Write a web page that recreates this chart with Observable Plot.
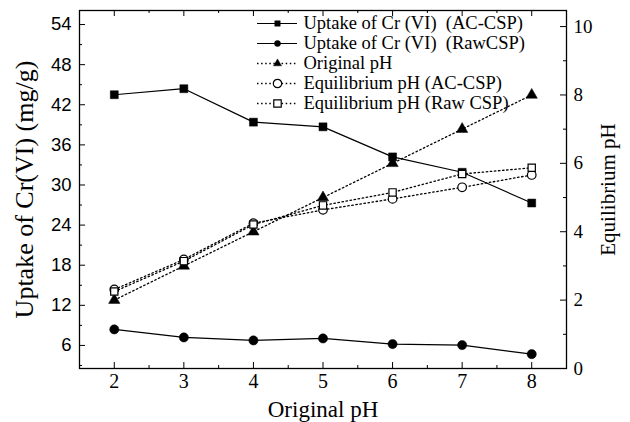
<!DOCTYPE html>
<html><head><meta charset="utf-8">
<script src="https://cdn.jsdelivr.net/npm/d3@7"></script>
<script src="https://cdn.jsdelivr.net/npm/@observablehq/plot@0.6"></script>
<style>
body{margin:0;background:#fff}
#wrap{position:relative;width:630px;height:422px}
#wrap svg{position:absolute;left:0;top:0;overflow:visible}
#wrap svg text{white-space:pre;font-family:"Liberation Serif","Times New Roman",serif !important}
#wrap svg#mainPlot g[aria-label="y-axis tick label"] text{font-family:"Liberation Sans",Arial,sans-serif !important}
</style>
</head><body><div id="wrap"></div>
<script>
// ---- data ----
const originalPH = [2, 3, 4, 5, 6, 7, 8];
const uptakeAC  = [43.5, 44.4, 39.4, 38.7, 34.2, 31.9, 27.3];
const uptakeRaw = [8.4, 7.2, 6.75, 7.05, 6.2, 6.05, 4.7];
const origPHValues = [2, 3, 4, 5, 6, 7, 8];
const eqPH_AC  = [2.31, 3.19, 4.25, 4.64, 4.96, 5.30, 5.66];
const eqPH_Raw = [2.25, 3.14, 4.21, 4.77, 5.15, 5.69, 5.87];

const xTicks = [2, 3, 4, 5, 6, 7, 8];
const xMinor = [1.5, 2.5, 3.5, 4.5, 5.5, 6.5, 7.5, 8.5];
const yLeftTicks = [6, 12, 18, 24, 30, 36, 42, 48, 54];
const yLeftMinor = [3, 9, 15, 21, 27, 33, 39, 45, 51];
const yRightTicks = [0, 2, 4, 6, 8, 10];
const yRightMinor = [1, 3, 5, 7, 9];

const legendLabels = [
  "Uptake of Cr (VI)  (AC-CSP)",
  "Uptake of Cr (VI)  (RawCSP)",
  "Original pH",
  "Equilibrium pH (AC-CSP)",
  "Equilibrium pH (Raw CSP)"
];
const legendSymbols = ["square", "circle", "triangle", "circle", "square"];
const legendFilled = [true, true, true, false, false];
const legendDotted = [false, false, true, true, true];

const xTitle = "Original pH";
const yLeftTitle = "Uptake of Cr(VI) (mg/g)";
const yRightTitle = "Equilibrium pH";

// ---- tables ----
const rows = (ys) => originalPH.map((x, i) => ({x, y: ys[i]}));
const legendRows = legendLabels.map((label, i) => ({
  label, symbol: legendSymbols[i], filled: legendFilled[i], dotted: legendDotted[i]
}));

// ---- layout ----
const W = 630, H = 422;
const mT = 10, mR = 64, mB = 54, mL = 79;
const fw = W - mL - mR, fh = H - mT - mB;
const serif = "Liberation Serif";
const sans = "Liberation Sans";
const dotted = "1.5 2.6";

const common = {
  width: W, height: H,
  marginTop: mT, marginRight: mR, marginBottom: mB, marginLeft: mL,
  style: {background: "transparent", fontFamily: serif, color: "black"}
};

const filledDot = (data, symbol, r) =>
  Plot.dot(data, {x: "x", y: "y", symbol, r, fill: "black", stroke: "black", strokeWidth: 0.5});
const openDot = (data, symbol, r) =>
  Plot.dot(data, {x: "x", y: "y", symbol, r, fill: "white", stroke: "black", strokeWidth: 1.2});

const main = Plot.plot({
  ...common,
  x: {domain: [1.5, 8.5]},
  y: {domain: [2.55, 56.1]},
  marks: [
    Plot.tickX(xTicks, {x: d => d, insetTop: fh - 6}),
    Plot.tickX(xMinor, {x: d => d, insetTop: fh - 3}),
    Plot.tickX(xTicks, {x: d => d, insetBottom: fh - 6}),
    Plot.tickX(xMinor, {x: d => d, insetBottom: fh - 3}),
    Plot.tickY(yLeftTicks, {y: d => d, insetRight: fw - 6}),
    Plot.tickY(yLeftMinor, {y: d => d, insetRight: fw - 3}),
    Plot.frame({stroke: "black", strokeWidth: 1.3}),
    Plot.axisX(xTicks, {tickSize: 0, tickPadding: 5, fontFamily: serif, fontSize: 20, label: null}),
    Plot.axisY(yLeftTicks, {tickSize: 0, tickPadding: 8, fontFamily: sans, fontSize: 18.5, label: null}),
    Plot.text([xTitle], {frameAnchor: "bottom", dy: 48, lineAnchor: "bottom", textAnchor: "middle", fontFamily: serif, fontSize: 23, text: d => d}),
    Plot.text([yLeftTitle], {frameAnchor: "left", rotate: -90, dx: -47, lineAnchor: "bottom", textAnchor: "middle", fontFamily: serif, fontSize: 26, text: d => d}),
    Plot.line(rows(uptakeAC), {x: "x", y: "y", stroke: "black", strokeWidth: 1.2}),
    Plot.line(rows(uptakeRaw), {x: "x", y: "y", stroke: "black", strokeWidth: 1.2}),
    filledDot(rows(uptakeAC), "square", 4.5),
    filledDot(rows(uptakeRaw), "circle", 4.6)
  ]
});
main.setAttribute("id", "mainPlot");

const right = Plot.plot({
  ...common,
  x: {domain: [1.5, 8.5], axis: null},
  y: {domain: [0, 10.47]},
  marks: [
    Plot.tickY(yRightTicks, {y: d => d, insetLeft: fw - 6}),
    Plot.tickY(yRightMinor, {y: d => d, insetLeft: fw - 3}),
    Plot.axisY(yRightTicks, {anchor: "right", tickSize: 0, tickPadding: 7, fontFamily: serif, fontSize: 19, label: null}),
    Plot.text([yRightTitle], {frameAnchor: "right", rotate: -90, dx: 48, lineAnchor: "bottom", textAnchor: "middle", fontFamily: serif, fontSize: 21, text: d => d}),
    Plot.line(rows(origPHValues), {x: "x", y: "y", stroke: "black", strokeWidth: 1.3, strokeDasharray: dotted}),
    Plot.line(rows(eqPH_AC), {x: "x", y: "y", stroke: "black", strokeWidth: 1.3, strokeDasharray: dotted}),
    Plot.line(rows(eqPH_Raw), {x: "x", y: "y", stroke: "black", strokeWidth: 1.3, strokeDasharray: dotted}),
    filledDot(rows(origPHValues), "triangle", 4.2),
    openDot(rows(eqPH_AC), "circle", 4.3),
    openDot(rows(eqPH_Raw), "square", 4.1)
  ]
});

const legend = Plot.plot({
  width: W, height: H,
  marginLeft: 257, marginRight: W - 297, marginTop: 23.3, marginBottom: H - 103.3,
  style: {background: "transparent", fontFamily: serif, color: "black"},
  y: {type: "point", padding: 0, domain: legendLabels, axis: null},
  marks: [
    Plot.tickY(legendRows.filter(d => !d.dotted), {y: "label", stroke: "black", strokeWidth: 1.2}),
    Plot.tickY(legendRows.filter(d => d.dotted), {y: "label", stroke: "black", strokeWidth: 1.3, strokeDasharray: dotted}),
    Plot.dot(legendRows.filter(d => d.filled), {y: "label", symbol: "symbol", r: d => d.symbol === "triangle" ? 4.2 : 4.5, fill: "black", stroke: "black", strokeWidth: 0.5}),
    Plot.dot(legendRows.filter(d => !d.filled), {y: "label", symbol: "symbol", r: 4.2, fill: "white", stroke: "black", strokeWidth: 1.2}),
    Plot.text(legendRows, {y: "label", text: "label", frameAnchor: "right", textAnchor: "start", dx: 6, fontFamily: serif, fontSize: 18.5})
  ]
});

const wrap = document.getElementById("wrap");
wrap.append(main, right, legend);
</script>
</body></html>
